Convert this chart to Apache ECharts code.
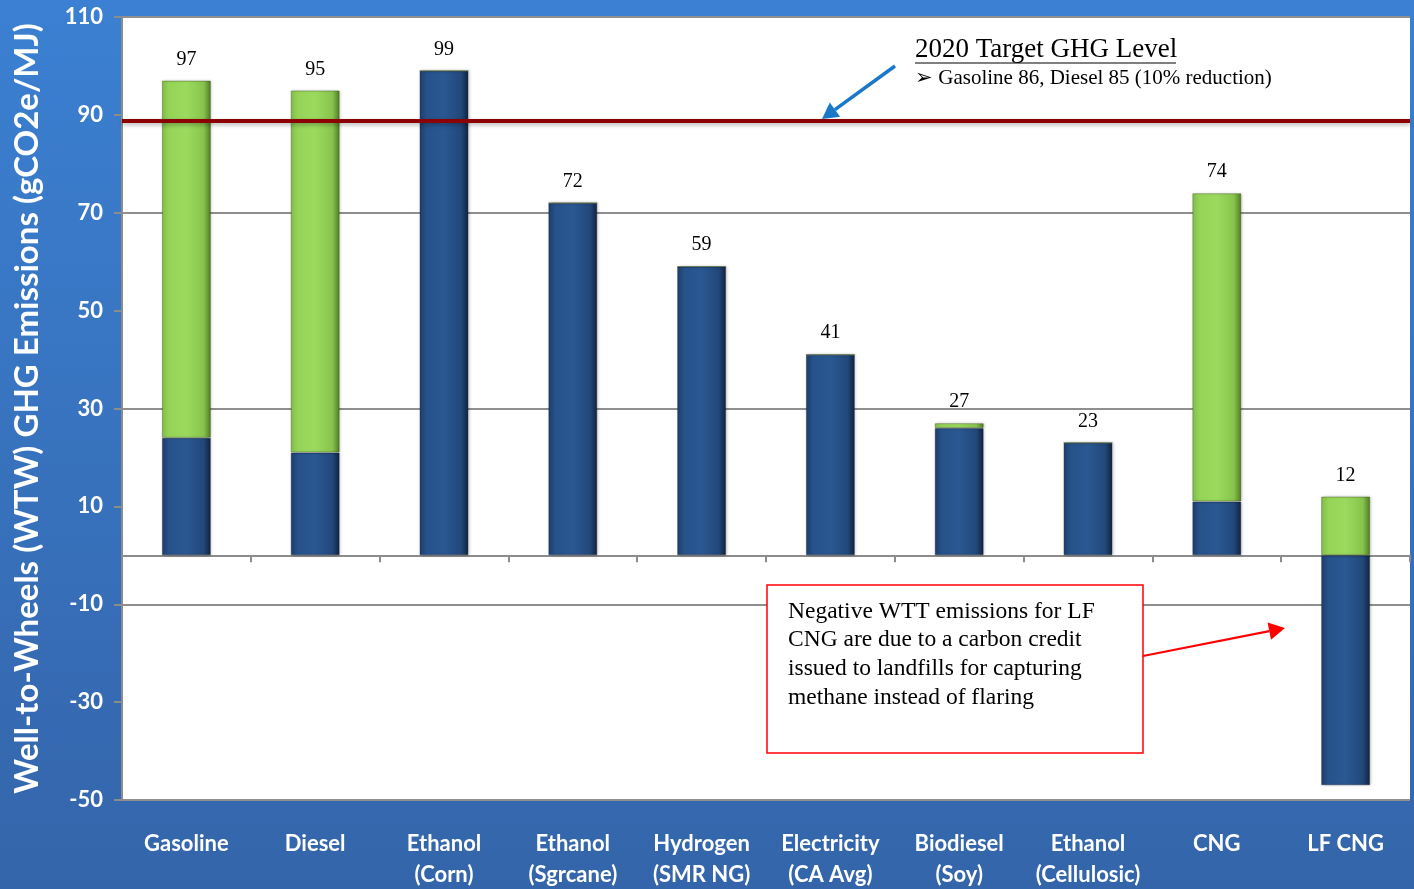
<!DOCTYPE html>
<html>
<head>
<meta charset="utf-8">
<script src="https://cdn.jsdelivr.net/npm/echarts@6/dist/echarts.min.js"></script>
<style>html,body{margin:0;padding:0;background:#3a74c4;}#c{width:1414px;height:889px;}</style>
</head>
<body>
<div id="c"></div>
<script>
const categories = ['Gasoline', 'Diesel', 'Ethanol\n(Corn)', 'Ethanol\n(Sgrcane)', 'Hydrogen\n(SMR NG)', 'Electricity\n(CA Avg)', 'Biodiesel\n(Soy)', 'Ethanol\n(Cellulosic)', 'CNG', 'LF CNG'];
const wttBlue = [24, 21, 99, 72, 59, 41, 26, 23, 11, -47];
const ttwGreen = [73, 74, 0, 0, 0, 0, 1, 0, 63, 12];
const totals = [97, 95, 99, 72, 59, 41, 27, 23, 74, 12];
const targetLevel = 88.7;
const yLabelValues = [-50, -30, -10, 10, 30, 50, 70, 90, 110];

const chart = echarts.init(document.getElementById('c'));
const G = echarts.graphic;
const blueGrad = new G.LinearGradient(0, 0, 1, 0, [
  {offset: 0, color: '#1e3f6e'}, {offset: 0.15, color: '#27528a'},
  {offset: 0.5, color: '#2a5892'}, {offset: 0.85, color: '#22487b'},
  {offset: 1, color: '#10223d'}]);
const greenGrad = new G.LinearGradient(0, 0, 1, 0, [
  {offset: 0, color: '#82c149'}, {offset: 0.15, color: '#96d458'},
  {offset: 0.5, color: '#9bda5e'}, {offset: 0.85, color: '#88c44d'},
  {offset: 1, color: '#4f7c24'}]);

function arrow(x1, y1, x2, y2, color, w, head) {
  const ang = Math.atan2(y2 - y1, x2 - x1);
  const hl = head, hw = head * 0.55;
  const bx = x2 - hl * Math.cos(ang), by = y2 - hl * Math.sin(ang);
  const px = -Math.sin(ang) * hw, py = Math.cos(ang) * hw;
  return [
    {type: 'line', shape: {x1: x1, y1: y1, x2: bx, y2: by}, style: {stroke: color, lineWidth: w}, z: 100},
    {type: 'polygon', shape: {points: [[x2, y2], [bx + px, by + py], [bx - px, by - py]]}, style: {fill: color}, z: 100}
  ];
}

const option = {
  backgroundColor: new G.LinearGradient(0, 0, 0, 1, [
    {offset: 0, color: '#3b80d2'}, {offset: 1, color: '#3465aa'}]),
  animation: false,
  grid: {left: 122, right: 4, top: 17, bottom: 89, show: true, backgroundColor: '#ffffff', borderWidth: 0,
    containLabel: false, outerBoundsMode: 'none'},
  xAxis: [{
    type: 'category', data: categories, position: 'bottom',
    axisLine: {show: false, onZero: false},
    axisTick: {show: false},
    axisLabel: {color: '#ffffff', fontFamily: 'Lato', fontWeight: 'bold', fontSize: 22, lineHeight: 31, margin: 28, interval: 0}
  }, {
    type: 'category', data: categories, position: 'bottom',
    axisLine: {show: true, onZero: true, lineStyle: {color: '#8c8c8c', width: 2}},
    axisTick: {show: true, length: 7, lineStyle: {color: '#8c8c8c', width: 2}},
    axisLabel: {show: false}
  }],
  yAxis: {
    type: 'value', min: -50, max: 110, interval: 10,
    name: 'Well-to-Wheels (WTW) GHG Emissions (gCO2e/MJ)',
    nameLocation: 'middle', nameRotate: 90, nameGap: 78,
    nameTextStyle: {color: '#ffffff', fontFamily: 'Lato', fontWeight: 'bold', fontSize: 33},
    axisLine: {show: true, lineStyle: {color: '#8c8c8c', width: 2}},
    axisTick: {show: true, length: 8, customValues: yLabelValues, lineStyle: {color: '#8c8c8c', width: 2}},
    axisLabel: {
      color: '#ffffff', fontFamily: 'Lato', fontWeight: 'bold', fontSize: 22, margin: 19,
      customValues: yLabelValues,
      formatter: function (v) { return yLabelValues.indexOf(v) >= 0 ? String(v) : ''; }
    },
    splitLine: {show: true, lineStyle: {color: ['#8f8f8f', 'rgba(0,0,0,0)'], width: 2}}
  },
  series: [{
    name: 'WTT', type: 'bar', stack: 'ghg', stackStrategy: 'samesign', xAxisIndex: 0,
    data: wttBlue, barWidth: '38%',
    itemStyle: {color: blueGrad, borderColor: 'rgba(10,25,50,0.35)', borderWidth: 1,
      shadowColor: 'rgba(0,0,0,0.25)', shadowBlur: 3, shadowOffsetX: 1},
    markLine: {
      silent: true, symbol: 'none', label: {show: false},
      lineStyle: {color: '#8b0000', width: 4, type: 'solid', shadowColor: 'rgba(0,0,0,0.3)', shadowBlur: 4, shadowOffsetY: 2},
      data: [{yAxis: targetLevel}]
    }
  }, {
    name: 'TTW', type: 'bar', stack: 'ghg', stackStrategy: 'samesign', xAxisIndex: 0,
    data: ttwGreen, barWidth: '38%',
    itemStyle: {color: greenGrad, borderColor: 'rgba(40,70,10,0.35)', borderWidth: 1,
      shadowColor: 'rgba(0,0,0,0.25)', shadowBlur: 3, shadowOffsetX: 1},
    label: {
      show: true, position: 'top', distance: 11, color: '#000000',
      fontFamily: 'Liberation Serif', fontSize: 20,
      formatter: function (p) { return String(totals[p.dataIndex]); }
    }
  }],
  graphic: [
    {type: 'text', left: 915, top: 36, style: {text: '2020 Target GHG Level', fill: '#000', font: '27px "Liberation Serif"'}, z: 100},
    {type: 'line', shape: {x1: 915, y1: 63, x2: 1176, y2: 63}, style: {stroke: '#000', lineWidth: 1.2}, z: 100},
    {type: 'text', left: 915, top: 68, style: {text: '\u27A2 Gasoline 86, Diesel 85 (10% reduction)', fill: '#000', font: '21px "Liberation Serif"'}, z: 100},
    ...arrow(895, 66, 822, 119, '#1a78c8', 3.5, 16),
    {type: 'rect', shape: {x: 767, y: 585, width: 376, height: 168}, style: {fill: '#ffffff', stroke: '#ff0000', lineWidth: 1.5}, z: 100},
    {type: 'text', left: 788, top: 597, style: {
      text: 'Negative WTT emissions for LF\nCNG are due to a carbon credit\nissued to landfills for capturing\nmethane instead of flaring',
      fill: '#000', font: '23.5px "Liberation Serif"', lineHeight: 28.7}, z: 101},
    ...arrow(1143, 656, 1285, 628, '#ff0000', 2.2, 16)
  ]
};
chart.setOption(option);
</script>
</body>
</html>
